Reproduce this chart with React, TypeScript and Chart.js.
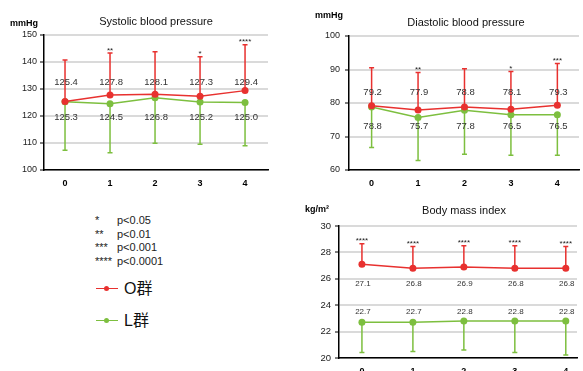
import React, { useEffect, useRef } from "react";
import { Chart, registerables } from "chart.js";

Chart.register(...registerables);

// ---------- data ----------
const categories = [0, 1, 2, 3, 4];

const sbpO = [125.4, 127.8, 128.1, 127.3, 129.4];
const sbpOUpper = [140.7, 143.3, 143.8, 141.9, 146.4];
const sbpL = [125.3, 124.5, 126.8, 125.2, 125.0];
const sbpLLower = [107.3, 106.4, 109.9, 109.5, 109.0];
const sbpSig = ["", "**", "", "*", "****"];
const sbpTicks = [100, 110, 120, 130, 140, 150];

const dbpO = [79.2, 77.9, 78.8, 78.1, 79.3];
const dbpOUpper = [90.5, 89.1, 90.2, 89.4, 91.8];
const dbpL = [78.8, 75.7, 77.8, 76.5, 76.5];
const dbpLLower = [66.7, 62.8, 64.7, 64.4, 64.4];
const dbpSig = ["", "**", "", "*", "***"];
const dbpTicks = [60, 70, 80, 90, 100];

const bmiO = [27.1, 26.8, 26.9, 26.8, 26.8];
const bmiOUpper = [28.66, 28.44, 28.5, 28.5, 28.44];
const bmiL = [22.7, 22.7, 22.8, 22.8, 22.8];
const bmiLLower = [20.42, 20.5, 20.6, 20.42, 20.23];
const bmiSig = ["****", "****", "****", "****", "****"];
const bmiTicks = [20, 22, 24, 26, 28, 30];

const sigNotes = [
  ["*", "p<0.05"],
  ["**", "p<0.01"],
  ["***", "p<0.001"],
  ["****", "p<0.0001"],
];
const seriesNames = ["O群", "L群"];

// ---------- style ----------
const RED = "#e8312f";
const GREEN = "#7dbf3f";
const FONT = '"Liberation Sans", Arial, "Noto Sans CJK JP", sans-serif';

type Panel = {
  title: string;
  unit: string;
  o: number[];
  oUp: number[];
  l: number[];
  lLow: number[];
  sig: string[];
  ticks: number[];
  left: number;
  top: number;
  w: number;
  h: number;
  yW: number;
  xH: number;
  padTop: number;
  padRight: number;
  xMin: number;
  xMax: number;
  oLabelAt: number;
  lLabelAt: number;
  labelSize: number;
  tickSize: number;
  tickBold: boolean;
  titleX: number;
  titleY: number;
  unitX: number;
  unitY: number;
  tickPad: number;
};

const panels: Panel[] = [
  {
    title: "Systolic blood pressure", unit: "mmHg",
    o: sbpO, oUp: sbpOUpper, l: sbpL, lLow: sbpLLower, sig: sbpSig, ticks: sbpTicks,
    left: 0, top: 0, w: 290, h: 195, yW: 44, xH: 25, padTop: 35, padRight: 22,
    xMin: -0.467, xMax: 4.51, oLabelAt: 132.6, lLabelAt: 119.6, labelSize: 9.5,
    tickSize: 9, tickBold: false, titleX: 156, titleY: 22, unitX: 24, unitY: 23.5, tickPad: 3,
  },
  {
    title: "Diastolic blood pressure", unit: "mmHg",
    o: dbpO, oUp: dbpOUpper, l: dbpL, lLow: dbpLLower, sig: dbpSig, ticks: dbpTicks,
    left: 290, top: 0, w: 293, h: 195, yW: 59, xH: 25, padTop: 36, padRight: 1,
    xMin: -0.487, xMax: 4.466, oLabelAt: 83.2, lLabelAt: 72.9, labelSize: 9.5,
    tickSize: 9, tickBold: false, titleX: 176, titleY: 22.5, unitX: 39, unitY: 16, tickPad: 5,
  },
  {
    title: "Body mass index", unit: "kg/m²",
    o: bmiO, oUp: bmiOUpper, l: bmiL, lLow: bmiLLower, sig: bmiSig, ticks: bmiTicks,
    left: 290, top: 195, w: 293, h: 176, yW: 49, xH: 13, padTop: 31, padRight: 6,
    xMin: -0.45, xMax: 4.22, oLabelAt: 25.6, lLabelAt: 23.48, labelSize: 8,
    tickSize: 9.5, tickBold: false, titleX: 174, titleY: 16, unitX: 27, unitY: 15, tickPad: 4,
  },
];

function makePlugin(p: Panel) {
  return {
    id: "panelDecor",
    beforeDatasetsDraw(chart: any) {
      const { ctx } = chart;
      const xs = chart.scales.x;
      const ys = chart.scales.y;
      ctx.save();
      ctx.lineWidth = 1.5;
      categories.forEach((c, i) => {
        const x = xs.getPixelForValue(c);
        // O upper bar
        const m1 = ys.getPixelForValue(p.o[i]);
        const t1 = ys.getPixelForValue(p.oUp[i]);
        ctx.strokeStyle = RED;
        ctx.beginPath();
        ctx.moveTo(x, m1);
        ctx.lineTo(x, t1);
        ctx.moveTo(x - 2.5, t1);
        ctx.lineTo(x + 2.5, t1);
        ctx.stroke();
        // L lower bar
        const m2 = ys.getPixelForValue(p.l[i]);
        const b2 = ys.getPixelForValue(p.lLow[i]);
        ctx.strokeStyle = GREEN;
        ctx.beginPath();
        ctx.moveTo(x, m2);
        ctx.lineTo(x, b2);
        ctx.moveTo(x - 2.5, b2);
        ctx.lineTo(x + 2.5, b2);
        ctx.stroke();
      });
      ctx.restore();
    },
    afterDatasetsDraw(chart: any) {
      const { ctx } = chart;
      const xs = chart.scales.x;
      const ys = chart.scales.y;
      ctx.save();
      ctx.textAlign = "center";
      ctx.fillStyle = "#333";
      ctx.font = `${p.labelSize}px ${FONT}`;
      ctx.textBaseline = "middle";
      categories.forEach((c, i) => {
        const x = xs.getPixelForValue(c);
        ctx.fillText(p.o[i].toFixed(1), x + 1, ys.getPixelForValue(p.oLabelAt));
        ctx.fillText(p.l[i].toFixed(1), x + 1, ys.getPixelForValue(p.lLabelAt));
      });
      ctx.font = `8px ${FONT}`;
      ctx.fillStyle = "#222";
      ctx.textBaseline = "alphabetic";
      categories.forEach((c, i) => {
        if (!p.sig[i]) return;
        const x = xs.getPixelForValue(c);
        ctx.fillText(p.sig[i], x, ys.getPixelForValue(p.oUp[i]) - 0.5);
      });
      ctx.restore();
    },
    afterDraw(chart: any) {
      const { ctx } = chart;
      ctx.save();
      ctx.textAlign = "center";
      ctx.textBaseline = "middle";
      ctx.fillStyle = "#111";
      ctx.font = `11px ${FONT}`;
      ctx.fillText(p.title, p.titleX, p.titleY);
      ctx.font = `bold 9px ${FONT}`;
      ctx.fillStyle = "#000";
      ctx.fillText(p.unit, p.unitX, p.unitY);
      ctx.restore();
    },
  };
}

function PanelChart({ p }: { p: Panel }) {
  const ref = useRef<HTMLCanvasElement | null>(null);
  useEffect(() => {
    if (!ref.current) return;
    const chart = new Chart(ref.current, {
      type: "line",
      data: {
        datasets: [
          {
            label: seriesNames[0],
            data: categories.map((c, i) => ({ x: c, y: p.o[i] })),
            borderColor: RED,
            backgroundColor: RED,
            borderWidth: 1.5,
            pointRadius: 3.5,
            pointBorderWidth: 0,
            tension: 0,
          },
          {
            label: seriesNames[1],
            data: categories.map((c, i) => ({ x: c, y: p.l[i] })),
            borderColor: GREEN,
            backgroundColor: GREEN,
            borderWidth: 1.5,
            pointRadius: 3.5,
            pointBorderWidth: 0,
            tension: 0,
          },
        ],
      },
      options: {
        responsive: false,
        animation: false,
        devicePixelRatio: 1,
        layout: { padding: { top: p.padTop, right: p.padRight, left: 0, bottom: 0 } },
        plugins: { legend: { display: false }, tooltip: { enabled: false }, title: { display: false } },
        scales: {
          x: {
            type: "linear",
            min: p.xMin,
            max: p.xMax,
            afterFit: (s: any) => { s.height = p.xH; },
            grid: { display: false, drawTicks: false },
            border: { display: true, color: "#000", width: 1.5 },
            ticks: {
              stepSize: 1,
              includeBounds: false,
              autoSkip: false,
              maxRotation: 0,
              padding: 8,
              color: "#000",
              font: { family: FONT, size: 9, weight: "bold" },
              callback: (v: any) => (Number.isInteger(v) ? String(v) : ""),
            },
          },
          y: {
            min: p.ticks[0],
            max: p.ticks[p.ticks.length - 1],
            afterFit: (s: any) => { s.width = p.yW; },
            afterBuildTicks: (s: any) => { s.ticks = p.ticks.map((v) => ({ value: v })); },
            grid: { color: "#dadada", lineWidth: 2, tickColor: "#000", tickLength: 4, tickWidth: 1 },
            border: { display: true, color: "#000", width: 1.5 },
            ticks: {
              padding: p.tickPad,
              color: "#222",
              font: { family: FONT, size: p.tickSize, weight: p.tickBold ? "bold" : "normal" },
            },
          },
        },
      },
      plugins: [makePlugin(p)],
    } as any);
    return () => chart.destroy();
  }, [p]);
  return (
    <canvas
      ref={ref}
      width={p.w}
      height={p.h}
      style={{ position: "absolute", left: p.left, top: p.top, width: p.w, height: p.h }}
    />
  );
}

export default function App() {
  const noteTops = [213, 227, 240, 254];
  const legendItems = [
    { name: seriesNames[0], color: RED, y: 288.5 },
    { name: seriesNames[1], color: GREEN, y: 320.5 },
  ];
  return (
    <div
      style={{
        position: "absolute",
        left: 0,
        top: 0,
        width: 583,
        height: 371,
        overflow: "hidden",
        background: "#fff",
        fontFamily: FONT,
      }}
    >
      {panels.map((p, i) => (
        <PanelChart key={i} p={p} />
      ))}
      {sigNotes.map((n, i) => (
        <div key={i} style={{ position: "absolute", top: noteTops[i], left: 0, height: 14, lineHeight: "14px", fontSize: 11, color: "#222" }}>
          <span style={{ position: "absolute", left: 95 }}>{n[0]}</span>
          <span style={{ position: "absolute", left: 117, whiteSpace: "nowrap" }}>{n[1]}</span>
        </div>
      ))}
      {legendItems.map((it, i) => (
        <div key={i}>
          <div style={{ position: "absolute", left: 96, top: it.y - 0.75, width: 22, height: 1.5, background: it.color }} />
          <div style={{ position: "absolute", left: 104, top: it.y - 2.5, width: 5, height: 5, borderRadius: 3, background: it.color }} />
          <div style={{ position: "absolute", left: 124, top: it.y - 11, height: 22, lineHeight: "22px", fontSize: 16, color: "#111", whiteSpace: "nowrap" }}>
            {it.name}
          </div>
        </div>
      ))}
    </div>
  );
}
